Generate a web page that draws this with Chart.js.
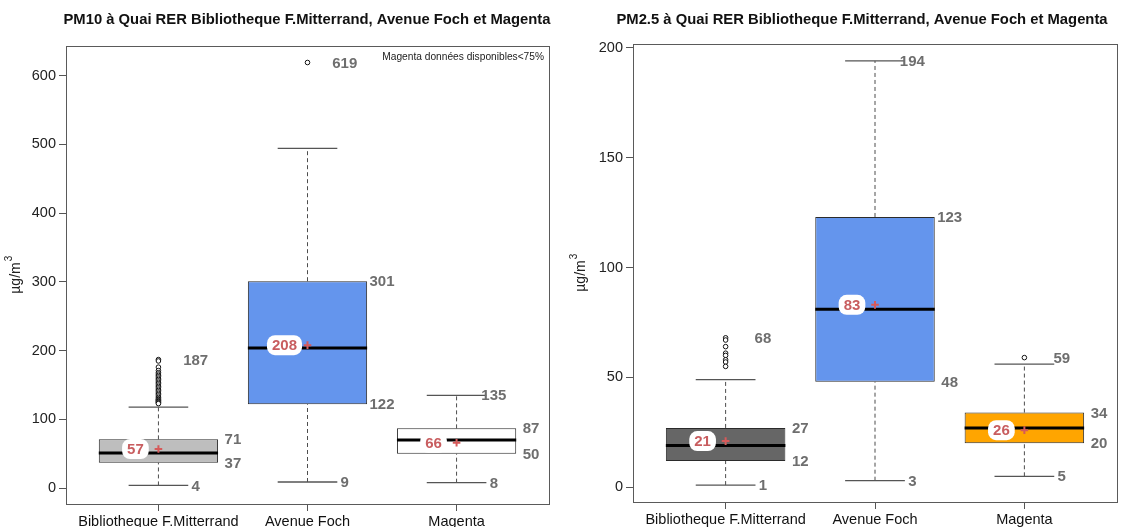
<!DOCTYPE html>
<html>
<head>
<meta charset="utf-8">
<script src="https://cdn.jsdelivr.net/npm/chart.js@4.4.1/dist/chart.umd.min.js"></script>
<style>
  html, body { margin: 0; padding: 0; background: #ffffff; }
  #wrap { position: relative; width: 1125px; height: 527px; overflow: hidden; }
  .panel { position: absolute; top: 0; height: 527px; }
</style>
</head>
<body>
<div id="wrap">
  <div class="panel" style="left:0;width:562px"><canvas id="pm10"></canvas></div>
  <div class="panel" style="left:562px;width:563px"><canvas id="pm25"></canvas></div>
</div>
<script>
// Stations (x categories)
const categories = ['Bibliotheque F.Mitterrand', 'Avenue Foch', 'Magenta'];

// PM10 statistics per station (µg/m3)
const pm10Low    = [4, 9, 8];
const pm10Q1     = [37, 122, 50];
const pm10Median = [51, 204, 70];
const pm10Q3     = [71, 301, 87];
const pm10High   = [118, 494, 135];
const pm10Mean   = [57, 208, 66];
const pm10Outliers = [
  [187, 185, 176, 171, 168, 166, 164, 162, 160, 158, 156, 154, 152, 150, 148, 146,
   144, 142, 140, 138, 136, 134, 132, 130, 129, 128, 127, 126, 125, 124, 123],
  [619],
  []
];
const pm10Ticks = [0, 100, 200, 300, 400, 500, 600];
const pm10Fill  = ['#bebebe', '#6495ed', '#ffffff'];

// PM2.5 statistics per station (µg/m3)
const pm25Low    = [1, 3, 5];
const pm25Q1     = [12, 48, 20];
const pm25Median = [19, 81, 27];
const pm25Q3     = [27, 123, 34];
const pm25High   = [49, 194, 56];
const pm25Mean   = [21, 83, 26];
const pm25Outliers = [
  [68, 67, 64, 61, 60, 58, 57, 55],
  [],
  [59]
];
const pm25Ticks = [0, 50, 100, 150, 200];
const pm25Fill  = ['#666666', '#6495ed', '#ffa500'];

const FONT = "'Liberation Sans', Arial, Helvetica, sans-serif";
const VALUE_GREY = '#6e6e6e';
const MEAN_RED = '#c85d5f';

function roundRect(ctx, x, y, w, h, r) {
  ctx.beginPath();
  ctx.moveTo(x + r, y);
  ctx.lineTo(x + w - r, y);
  ctx.arcTo(x + w, y, x + w, y + r, r);
  ctx.lineTo(x + w, y + h - r);
  ctx.arcTo(x + w, y + h, x + w - r, y + h, r);
  ctx.lineTo(x + r, y + h);
  ctx.arcTo(x, y + h, x, y + h - r, r);
  ctx.lineTo(x, y + r);
  ctx.arcTo(x, y, x + r, y, r);
  ctx.closePath();
}

function seg(ctx, x1, y1, x2, y2) {
  ctx.beginPath();
  ctx.moveTo(x1, y1);
  ctx.lineTo(x2, y2);
  ctx.stroke();
}

function makeBoxChart(canvasId, s) {
  const boxes = categories.map((c, i) => ({ x: i + 1, y: [s.q1[i], s.q3[i]] }));
  const outlierPts = [];
  s.outliers.forEach((list, i) => list.forEach(v => outlierPts.push({ x: i + 1, y: v })));
  const meanPts = s.mean.map((m, i) => ({ x: i + 1, y: m }));

  const parts = {
    id: 'boxParts',
    // dashed whiskers and their end caps, under the boxes
    beforeDatasetsDraw(chart) {
      const { ctx, scales: { x, y } } = chart;
      ctx.save();
      s.low.forEach((lo, i) => {
        const c = i + 1;
        const xc = x.getPixelForValue(c);
        const yLo = y.getPixelForValue(lo), yHi = y.getPixelForValue(s.high[i]);
        ctx.strokeStyle = '#4d4d4d';
        ctx.lineWidth = 1;
        ctx.setLineDash([4, 3]);
        seg(ctx, xc, yLo, xc, y.getPixelForValue(s.q1[i]));
        seg(ctx, xc, y.getPixelForValue(s.q3[i]), xc, yHi);
        ctx.setLineDash([]);
        ctx.strokeStyle = '#555555';
        ctx.lineWidth = 1.3;
        seg(ctx, x.getPixelForValue(c - 0.2), yLo, x.getPixelForValue(c + 0.2), yLo);
        seg(ctx, x.getPixelForValue(c - 0.2), yHi, x.getPixelForValue(c + 0.2), yHi);
      });
      ctx.restore();
    },
    // medians and mean labels, right after the boxes
    afterDatasetDraw(chart, args) {
      if (args.meta.type !== 'bar') return;
      const { ctx, scales: { x, y } } = chart;
      ctx.save();
      s.median.forEach((md, i) => {
        const c = i + 1;
        const ym = y.getPixelForValue(md);
        ctx.strokeStyle = '#000000';
        ctx.lineWidth = 3;
        seg(ctx, x.getPixelForValue(c - 0.4), ym, x.getPixelForValue(c + 0.4), ym);
      });
      ctx.font = 'bold 15px ' + FONT;
      ctx.textAlign = 'center';
      ctx.textBaseline = 'middle';
      s.mean.forEach((m, i) => {
        const c = i + 1;
        const cx = x.getPixelForValue(c) - 23;
        const cy = y.getPixelForValue(m);
        const txt = String(m);
        const w = ctx.measureText(txt).width + 10;
        ctx.fillStyle = '#ffffff';
        roundRect(ctx, cx - w / 2, cy - 10, w, 20, 8);
        ctx.fill();
        ctx.fillStyle = MEAN_RED;
        ctx.fillText(txt, cx, cy + 1);
      });
      ctx.restore();
    },
    // value labels, frame, titles
    afterDraw(chart) {
      const { ctx, chartArea: a, scales: { x, y } } = chart;
      ctx.save();
      ctx.font = 'bold 15px ' + FONT;
      ctx.fillStyle = VALUE_GREY;
      ctx.textAlign = 'center';
      ctx.textBaseline = 'middle';
      s.low.forEach((lo, i) => {
        const c = i + 1;
        const xq = x.getPixelForValue(c + 0.5);
        const xw = x.getPixelForValue(c + 0.25);
        ctx.fillText(String(s.q3[i]), xq, y.getPixelForValue(s.q3[i]) + 1);
        ctx.fillText(String(s.q1[i]), xq, y.getPixelForValue(s.q1[i]) + 1);
        ctx.fillText(String(lo), xw, y.getPixelForValue(lo) + 1);
        const top = s.outliers[i].length ? Math.max(...s.outliers[i]) : s.high[i];
        ctx.fillText(String(top), xw, y.getPixelForValue(top) + 1);
      });

      // plot frame
      ctx.strokeStyle = '#5a5a5a';
      ctx.lineWidth = 1;
      ctx.strokeRect(Math.round(a.left) + 0.5, Math.round(a.top) + 0.5,
                     Math.round(a.right - a.left), Math.round(a.bottom - a.top));

      // main title
      ctx.fillStyle = '#111111';
      ctx.font = 'bold 14.8px ' + FONT;
      ctx.textAlign = 'center';
      ctx.textBaseline = 'middle';
      ctx.fillText(s.title, s.titleX, 20);

      // y axis title with superscript
      ctx.save();
      ctx.translate(s.yTitleX, (a.top + a.bottom) / 2);
      ctx.rotate(-Math.PI / 2);
      ctx.font = '14px ' + FONT;
      ctx.fillStyle = '#222222';
      ctx.textAlign = 'left';
      ctx.textBaseline = 'alphabetic';
      const base = 'µg/m';
      const bw = ctx.measureText(base).width;
      ctx.fillText(base, -(bw + 6) / 2, 4);
      ctx.font = '10px ' + FONT;
      ctx.fillText('3', -(bw + 6) / 2 + bw + 1, -4);
      ctx.restore();

      if (s.note) {
        ctx.font = '10.2px ' + FONT;
        ctx.fillStyle = '#222222';
        ctx.textAlign = 'right';
        ctx.textBaseline = 'middle';
        ctx.fillText(s.note, a.right - 5, a.top + 11);
      }
      ctx.restore();
    }
  };

  return new Chart(document.getElementById(canvasId), {
    type: 'bar',
    data: {
      datasets: [
        {
          type: 'bar',
          data: boxes,
          backgroundColor: s.fill,
          borderColor: '#2b2b2b',
          borderWidth: 1,
          borderSkipped: false,
          categoryPercentage: 1,
          barPercentage: 0.8,
          order: 3
        },
        {
          type: 'scatter',
          data: outlierPts,
          pointStyle: 'circle',
          pointRadius: 2.3,
          pointBackgroundColor: '#ffffff',
          pointBorderColor: '#111111',
          pointBorderWidth: 1,
          order: 2
        },
        {
          type: 'scatter',
          data: meanPts,
          pointStyle: 'cross',
          pointRadius: 3.8,
          pointBorderColor: '#d65a5a',
          pointBorderWidth: 2,
          order: 1
        }
      ]
    },
    options: {
      responsive: true,
      maintainAspectRatio: false,
      animation: false,
      events: [],
      layout: { padding: { left: 0, right: s.padRight, top: s.padTop, bottom: 0 } },
      plugins: { legend: { display: false }, tooltip: { enabled: false }, title: { display: false } },
      scales: {
        x: {
          type: 'linear',
          min: 0.38,
          max: 3.62,
          offset: false,
          afterFit(scale) { scale.height = 527 - s.bottom; },
          afterBuildTicks(scale) { scale.ticks = categories.map((c, i) => ({ value: i + 1 })); },
          grid: { display: true, drawOnChartArea: false, drawTicks: true, tickLength: 7, color: '#555555', offset: false },
          border: { display: false },
          ticks: {
            autoSkip: false,
            maxRotation: 0,
            padding: 2,
            color: '#111111',
            font: { family: FONT, size: 14.5 },
            callback: v => categories[v - 1] || ''
          }
        },
        y: {
          type: 'linear',
          min: s.yMin,
          max: s.yMax,
          afterFit(scale) { scale.width = s.yWidth; },
          afterBuildTicks(scale) { scale.ticks = s.ticks.map(v => ({ value: v })); },
          grid: { display: true, drawOnChartArea: false, drawTicks: true, tickLength: 7, color: '#555555' },
          border: { display: false },
          ticks: {
            padding: 3,
            color: '#222222',
            font: { family: FONT, size: 14.5 },
            callback: v => String(v)
          }
        }
      }
    },
    plugins: [parts]
  });
}

makeBoxChart('pm10', {
  low: pm10Low, q1: pm10Q1, median: pm10Median, q3: pm10Q3, high: pm10High,
  mean: pm10Mean, outliers: pm10Outliers, ticks: pm10Ticks, fill: pm10Fill,
  yMin: -23, yMax: 643,
  title: 'PM10 à Quai RER Bibliotheque F.Mitterrand, Avenue Foch et Magenta',
  note: 'Magenta données disponibles<75%',
  titleX: 307, yTitleX: 16, yWidth: 66, padRight: 13, padTop: 46, bottom: 504
});

makeBoxChart('pm25', {
  low: pm25Low, q1: pm25Q1, median: pm25Median, q3: pm25Q3, high: pm25High,
  mean: pm25Mean, outliers: pm25Outliers, ticks: pm25Ticks, fill: pm25Fill,
  yMin: -6.7, yMax: 201.7,
  title: 'PM2.5 à Quai RER Bibliotheque F.Mitterrand, Avenue Foch et Magenta',
  note: '',
  titleX: 300, yTitleX: 19, yWidth: 71, padRight: 8, padTop: 44, bottom: 502
});
</script>
</body>
</html>
